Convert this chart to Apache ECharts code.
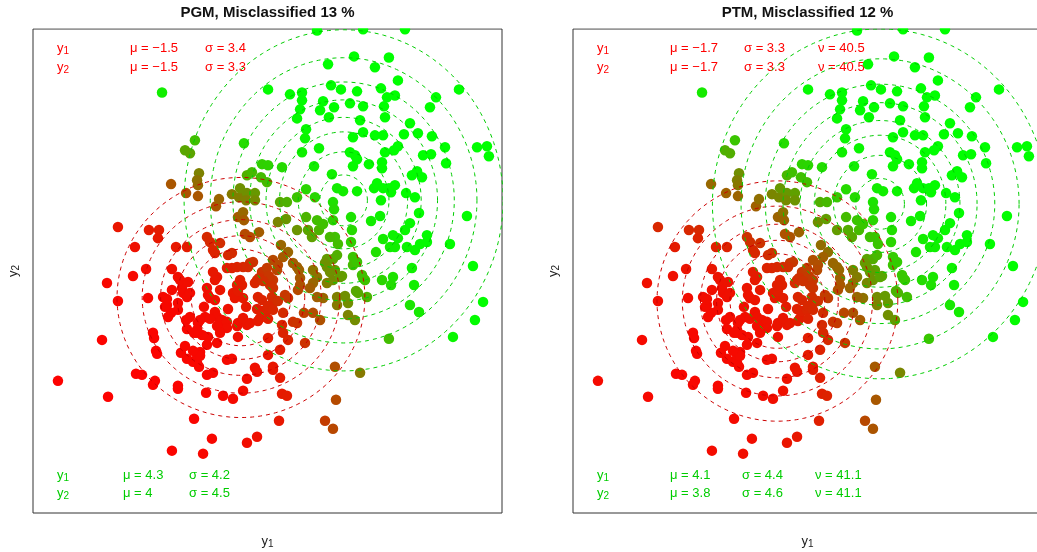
<!DOCTYPE html>
<html>
<head>
<meta charset="utf-8">
<script src="https://cdn.jsdelivr.net/npm/echarts@6/dist/echarts.min.js"></script>
<style>
  html, body { margin: 0; padding: 0; background: #fff; }
  #chart { width: 1037px; height: 552px; }
</style>
</head>
<body>
<div id="chart"></div>
<script>
// Observations (y1, y2)
const observations = [
  [2.80,13.62],[5.40,13.68],[7.77,13.68],[4.89,12.15],[6.86,12.09],[3.42,11.70],[6.07,11.53],[7.37,10.79],
  [10.82,10.28],[-5.96,10.11],[0.03,10.28],[1.27,10.00],[1.95,10.11],[1.95,9.66],[3.59,10.51],[4.15,10.28],
  [5.06,10.17],[6.41,10.34],[6.75,9.83],[7.20,9.94],[9.52,9.83],[1.84,9.15],[2.97,9.10],[3.14,9.61],
  [3.76,9.27],[4.66,9.49],[5.40,9.32],[6.58,9.32],[6.64,8.70],[9.18,9.27],[1.67,8.64],[3.47,8.70],
  [5.23,8.53],[8.05,8.36],[2.18,8.02],[2.12,7.51],[5.40,7.85],[4.83,7.57],[6.07,7.68],[6.53,7.68],
  [7.71,7.74],[8.50,7.80],[9.29,7.63],[-1.33,7.23],[-4.10,7.40],[-4.66,6.84],[-4.38,6.67],[2.91,6.95],
  [1.95,6.72],[4.66,6.72],[4.94,6.55],[5.06,6.33],[4.83,5.93],[5.73,6.05],[6.47,6.16],[6.64,6.72],
  [6.47,5.82],[7.15,6.84],[7.37,7.06],[8.79,6.55],[9.24,6.61],[10.03,7.01],[10.09,6.10],[11.84,7.01],
  [12.40,7.06],[12.51,6.50],[2.63,5.93],[0.82,5.88],[-0.31,6.05],[0.03,5.99],[3.64,5.48],[8.16,5.42],
  [8.45,5.65],[8.73,5.31],[3.93,4.69],[4.27,4.52],[5.06,4.52],[6.02,4.69],[6.19,4.97],[6.53,4.69],
  [6.86,4.69],[7.20,4.86],[6.98,4.46],[8.33,4.18],[7.83,4.41],[6.41,4.01],[2.18,4.63],[2.68,4.18],
  [3.70,3.90],[3.76,3.50],[0.71,3.90],[1.10,3.90],[1.67,4.18],[8.56,3.28],[11.27,3.11],[5.85,2.83],
  [6.36,3.11],[4.72,3.05],[3.70,2.88],[2.80,2.88],[2.91,2.32],[2.29,2.32],[1.67,2.32],[0.59,2.77],
  [1.05,2.94],[3.81,1.92],[3.53,1.92],[4.77,2.32],[4.72,1.64],[3.36,0.68],[3.70,0.68],[3.93,0.90],
  [4.21,-0.28],[4.83,0.79],[4.83,0.34],[5.34,-0.23],[5.40,-0.40],[2.57,0.06],[2.80,-0.34],[3.36,-0.68],
  [3.14,-1.53],[3.93,-1.47],[4.38,-1.41],[4.55,-1.81],[4.94,-2.77],[5.62,-1.47],[6.13,1.07],[6.92,1.36],
  [7.20,1.36],[6.53,1.81],[7.09,2.03],[7.37,1.86],[7.88,1.36],[8.33,1.19],[8.62,1.53],[9.01,2.03],
  [9.01,1.64],[7.77,2.32],[8.05,2.71],[10.31,1.53],[11.61,0.28],[8.16,0.17],[6.47,-0.51],[7.09,-0.34],
  [6.98,-0.79],[8.28,-0.79],[8.05,-1.92],[8.56,-2.32],[12.18,-1.75],[11.72,-2.77],[10.48,-3.73],[6.86,-3.84],
  [3.87,-7.29],[3.81,-5.42],[5.23,-5.76],[3.25,-8.48],[3.70,-8.93],[0.65,-8.48],[-3.87,5.54],[-3.98,5.14],
  [-3.93,4.86],[-5.45,4.92],[-4.60,4.41],[-3.93,4.24],[-2.91,3.67],[-2.74,4.07],[-2.01,4.35],[-1.61,4.18],
  [-1.16,4.41],[-1.21,4.01],[-0.71,4.41],[-0.71,4.01],[-1.55,4.69],[-1.16,5.42],[-0.88,5.59],[-0.37,5.31],
  [-0.03,5.03],[-1.67,3.05],[-1.38,3.33],[-1.33,2.88],[-0.48,2.20],[-1.27,2.09],[-0.99,1.92],[0.76,1.47],
  [1.16,1.07],[0.88,0.79],[0.31,0.62],[0.59,0.34],[0.54,0.06],[1.44,0.45],[1.67,0.23],[1.78,0.06],
  [1.84,-0.40],
  [3.14,2.66],[2.18,3.05],[3.98,1.53],[5.06,0.51],[5.51,-0.51],[2.57,-0.68],[2.80,-1.47],[3.25,0.45],
  [3.36,0.23],[3.81,0.06],[3.53,-0.06],[3.70,-0.51],[4.10,-0.34],[3.93,-1.92],[2.97,-2.77],[2.57,-2.37],
  [2.06,-2.37],[1.84,-0.79],[1.72,-1.07],[0.99,-1.36],[1.16,-1.53],[0.31,-0.51],[-0.31,-0.06],[-0.03,0.17],
  [0.03,-0.40],[0.14,-0.79],[0.31,-0.96],[-0.54,-1.47],[-0.31,-1.64],[0.25,-1.47],[0.31,-1.81],[0.88,-2.37],
  [1.44,-2.88],[1.67,-2.94],[0.82,-3.05],[0.88,-3.50],[1.16,-3.90],[2.12,-4.07],[0.71,-4.46],[0.03,-4.75],
  [0.31,-5.42],[0.31,-5.59],[0.71,-6.05],[0.82,-6.95],[1.10,-7.06],[-1.16,-6.10],[-0.71,-5.48],[-0.59,-5.71],
  [-2.29,-5.03],[-2.01,-4.97],[-1.38,-6.78],[-1.95,-7.23],[-2.51,-7.06],[-3.47,-6.89],[-3.08,-5.76],[-3.42,-5.88],
  [-3.87,-5.42],[-3.98,-5.20],[-4.21,-5.14],[-4.55,-4.97],[-4.89,-4.63],[-3.81,-4.58],[-3.98,-4.75],[-3.42,-4.18],
  [-3.36,-3.73],[-3.70,-3.62],[-3.98,-3.50],[-2.85,-4.07],[-1.72,-3.11],[-1.67,-2.94],[-1.16,-3.05],[-0.99,-2.94],
  [-0.54,-2.83],[-0.42,-2.66],[-0.59,-2.15],[-0.31,-2.26],[-0.03,-2.20],[0.03,-1.98],[0.31,-2.20],[-1.38,-1.53],
  [-1.21,-2.03],[-1.95,-1.24],[-1.84,-1.53],[-1.55,-0.51],[-1.44,-0.79],[-1.72,-0.79],[-0.99,0.45],[-0.82,0.51],
  [-1.10,0.23],[-1.38,0.23],[-1.72,0.23],[-2.01,0.17],[-2.29,0.17],[-0.59,-0.51],[-0.48,-0.40],[0.08,-0.28],
  [-2.85,-0.34],[-3.08,-0.06],[-2.97,-0.51],[-2.68,-1.07],[-3.42,-0.96],[-3.36,-1.36],[-3.25,-1.53],[-2.97,-1.64],
  [-3.59,-2.03],[-3.53,-2.60],[-2.97,-2.32],[-2.85,-2.60],[-2.57,-2.77],[-2.51,-3.05],[-2.29,-2.88],[-2.29,-3.22],
  [-3.81,-2.77],[-3.93,-2.94],[-3.98,-3.33],[-4.38,-2.60],[-4.60,-2.77],[-4.55,-3.28],[-5.06,-1.81],[-5.06,-2.20],
  [-5.45,-2.37],[-5.62,-2.60],[-5.68,-1.92],[-5.79,-2.03],[-5.90,-1.47],[-5.40,-1.07],[-4.83,-0.96],[-4.77,-1.24],
  [-4.55,-1.47],[-4.38,-1.24],[-4.94,-0.51],[-4.49,-0.62],[-5.40,0.11],[-5.06,-0.34],[-4.55,1.36],[-5.17,1.36],
  [-3.42,1.92],[-3.25,1.64],[-3.08,1.19],[-2.97,1.02],[-2.68,1.58],[-2.23,0.90],[-2.01,1.02],[-6.70,2.32],
  [-6.13,2.32],[-6.19,1.86],[-7.49,1.36],[-6.86,0.11],[-7.60,-0.28],[-8.45,2.49],[-9.07,-0.68],[-8.45,-1.70],
  [-6.75,-1.53],[-6.47,-3.50],[-6.41,-3.79],[-6.30,-4.52],[-6.24,-4.69],[-9.35,-3.90],[-7.43,-5.82],[-7.09,-5.88],
  [-6.36,-6.22],[-6.47,-6.44],[-5.06,-6.50],[-5.06,-6.67],[-9.01,-7.12],[-4.15,-8.36],[-11.84,-6.22],[-3.14,-9.49],
  [-5.40,-10.17],[-3.64,-10.34],[-1.16,-9.72],[-0.59,-9.38],[-1.67,-1.13],[-0.71,-0.68],[-0.25,-0.57],[0.59,-1.70],
  [-1.38,-2.66],[-2.23,-2.15],[-2.85,-3.11],[-3.25,-2.71],[-4.15,-3.50],[-2.68,-3.50],[0.03,-2.71],[-1.67,-3.73],
  [-3.81,-4.80],[-4.21,-4.52],[-4.66,-4.24],[-5.68,-1.58],[0.03,-3.79],[2.40,-0.96],[4.55,-2.49],[5.00,-1.13],
  [5.11,-1.24],[2.51,1.92]
];

const modelNames = ['PGM', 'PTM'];
const misclassifiedPct = [13, 12];

// PGM: Gaussian components (component 1 = red, component 2 = green)
const pgmMu1 = [-1.5, -1.5];
const pgmSigma1 = [3.4, 3.3];
const pgmMu2 = [4.3, 4];
const pgmSigma2 = [4.2, 4.5];

// PTM: Student-t components
const ptmMu1 = [-1.7, -1.7];
const ptmSigma1 = [3.3, 3.3];
const ptmNu1 = [40.5, 40.5];
const ptmMu2 = [4.1, 3.8];
const ptmSigma2 = [4.4, 4.6];
const ptmNu2 = [41.1, 41.1];

const mixWeights = [0.5, 0.5];

// contour heights as fractions of each component's peak density
const contourLevels1 = [0.12, 0.26, 0.41, 0.57, 0.71];
const contourLevels2 = [0.10, 0.20, 0.33, 0.45, 0.58, 0.69, 0.83, 0.95];

const y1Range = [-13.25, 13.25];
const y2Range = [-13.7, 13.7];

// ---------------------------------------------------------------
const FONT = '"Liberation Sans", Arial, Helvetica, sans-serif';
const RED_TEXT = '#ff0000', GREEN_TEXT = '#00cd00';
const RED_LINE = '#cd0000', GREEN_LINE = '#00cd00';

const panels = [
  { comps: [ { mu: pgmMu1, sigma: pgmSigma1, nu: null },
             { mu: pgmMu2, sigma: pgmSigma2, nu: null } ] },
  { comps: [ { mu: ptmMu1, sigma: ptmSigma1, nu: ptmNu1 },
             { mu: ptmMu2, sigma: ptmSigma2, nu: ptmNu2 } ] }
];

function kernel(delta, nu) {
  return nu ? Math.pow(1 + delta / nu, -(nu + 2) / 2) : Math.exp(-delta / 2);
}
function density(p, c) {
  const z0 = (p[0] - c.mu[0]) / c.sigma[0];
  const z1 = (p[1] - c.mu[1]) / c.sigma[1];
  return kernel(z0 * z0 + z1 * z1, c.nu && c.nu[0]) / (c.sigma[0] * c.sigma[1]);
}
// Mahalanobis radius at which the density drops to `level` times its peak
function levelRadius(level, nu) {
  return Math.sqrt(nu ? nu * (Math.pow(level, -2 / (nu + 2)) - 1) : -2 * Math.log(level));
}
function ellipse(c, level) {
  const r = levelRadius(level, c.nu && c.nu[0]);
  const pts = [];
  for (let i = 0; i <= 200; i++) {
    const t = i / 200 * 2 * Math.PI;
    pts.push([c.mu[0] + r * c.sigma[0] * Math.cos(t), c.mu[1] + r * c.sigma[1] * Math.sin(t)]);
  }
  return pts;
}
// posterior of the green component mapped onto a red -> green ramp
function pointColor(p, comps) {
  const a = mixWeights[0] * density(p, comps[0]);
  const b = mixWeights[1] * density(p, comps[1]);
  const g = b / (a + b);
  return 'rgb(' + Math.round(255 * (1 - g)) + ',' + Math.round(255 * g) + ',0)';
}
const fmt = v => String(v).replace('-', '\u2212');

// ---------------------------------------------------------------
const gridLeft = [33, 573];
const gridTop = 29, gridW = 469, gridH = 484;

const subRich = {
  m: { fontSize: 13, lineHeight: 16, verticalAlign: 'middle', fontFamily: FONT },
  s: { fontSize: 10, lineHeight: 10, verticalAlign: 'bottom', fontFamily: FONT }
};
function richColored(color) {
  return {
    m: Object.assign({}, subRich.m, { color: color }),
    s: Object.assign({}, subRich.s, { color: color })
  };
}

const grids = [], xAxes = [], yAxes = [], series = [], graphics = [];

panels.forEach((panel, k) => {
  grids.push({
    left: gridLeft[k], top: gridTop, width: gridW, height: gridH,
    show: true, borderColor: '#333', borderWidth: 1, backgroundColor: 'transparent',
    containLabel: false, outerBoundsMode: 'none'
  });
  const axisCommon = {
    gridIndex: k, type: 'value',
    axisLine: { show: false }, axisTick: { show: false },
    axisLabel: { show: false }, splitLine: { show: false },
    nameLocation: 'middle'
  };
  xAxes.push(Object.assign({}, axisCommon, {
    min: y1Range[0], max: y1Range[1],
    name: '{m|y}{s|1}', nameGap: 20,
    nameTextStyle: { color: '#222', rich: richColored('#222') }
  }));
  yAxes.push(Object.assign({}, axisCommon, {
    min: y2Range[0], max: y2Range[1],
    name: '{m|y}{s|2}', nameGap: 12,
    nameTextStyle: { color: '#222', rich: richColored('#222') }
  }));

  series.push({
    type: 'scatter', xAxisIndex: k, yAxisIndex: k,
    symbol: 'circle', symbolSize: 10.5, z: 2, silent: true,
    data: observations.map(p => ({ value: p, itemStyle: { color: pointColor(p, panel.comps), opacity: 1 } }))
  });

  [[panel.comps[0], contourLevels1, RED_LINE], [panel.comps[1], contourLevels2, GREEN_LINE]].forEach(([c, levels, color]) => {
    levels.forEach(level => {
      series.push({
        type: 'line', xAxisIndex: k, yAxisIndex: k, z: 3, silent: true,
        symbol: 'none', smooth: false, clip: true,
        lineStyle: { color: color, width: 1, type: [4, 4] },
        data: ellipse(c, level)
      });
    });
  });
});

// annotation tables
function addText(x, y, text, color, rich) {
  graphics.push({
    type: 'text', x: x, y: y, z: 1, silent: true,
    style: {
      text: text, fill: color, font: '13px ' + FONT,
      textAlign: 'left', align: 'left', textVerticalAlign: 'middle', verticalAlign: 'middle',
      rich: rich
    }
  });
}
function addTable(cols, rows, comp, color) {
  const rich = richColored(color);
  rows.forEach((ry, i) => {
    addText(cols[0], ry, '{m|y}{s|' + (i + 1) + '}', color, rich);
    addText(cols[1], ry, '\u03bc = ' + fmt(comp.mu[i]), color);
    addText(cols[2], ry, '\u03c3 = ' + fmt(comp.sigma[i]), color);
    if (comp.nu) addText(cols[3], ry, '\u03bd = ' + fmt(comp.nu[i]), color);
  });
}
addTable([57, 130, 205], [48.5, 67], panels[0].comps[0], RED_TEXT);
addTable([57, 123, 189], [475, 493.5], panels[0].comps[1], GREEN_TEXT);
addTable([597, 670, 744, 818], [48.5, 67], panels[1].comps[0], RED_TEXT);
addTable([597, 670, 742, 815], [475, 493.5], panels[1].comps[1], GREEN_TEXT);

// white band above the plot regions (points are clipped at the frame)
graphics.push({
  type: 'rect', z: 20, silent: true,
  shape: { x: 0, y: 0, width: 1037, height: 28.3 },
  style: { fill: '#ffffff' }
});

// panel titles
modelNames.forEach((m, k) => {
  graphics.push({
    type: 'text', x: gridLeft[k] + gridW / 2, y: 12.5, z: 30, silent: true,
    style: {
      text: m + ', Misclassified ' + misclassifiedPct[k] + ' %',
      fill: '#111', font: 'bold 15px ' + FONT,
      textAlign: 'center', align: 'center', textVerticalAlign: 'middle', verticalAlign: 'middle'
    }
  });
});

const chart = echarts.init(document.getElementById('chart'), null, { renderer: 'canvas' });
chart.setOption({
  animation: false,
  backgroundColor: '#ffffff',
  textStyle: { fontFamily: FONT },
  grid: grids,
  xAxis: xAxes,
  yAxis: yAxes,
  series: series,
  graphic: { elements: graphics }
});
</script>
</body>
</html>
